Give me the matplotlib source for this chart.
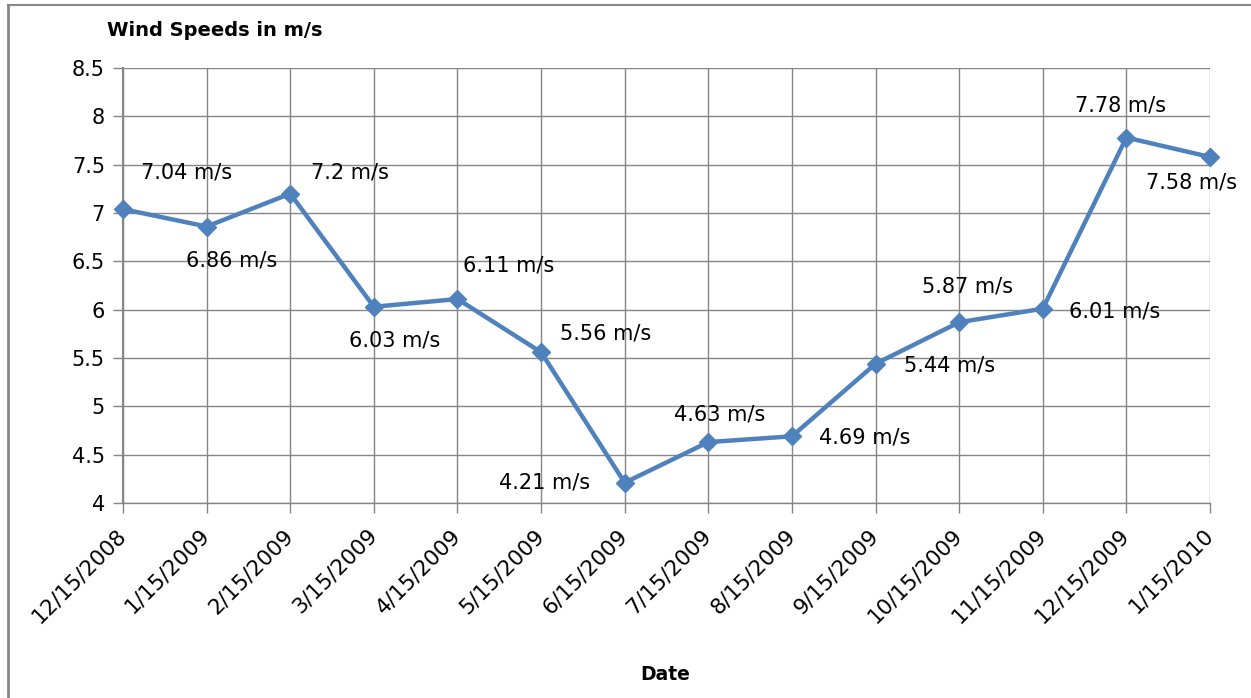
import matplotlib
matplotlib.use("Agg")
import matplotlib.pyplot as plt
from matplotlib.lines import Line2D

dates = ["12/15/2008", "1/15/2009", "2/15/2009", "3/15/2009", "4/15/2009",
         "5/15/2009", "6/15/2009", "7/15/2009", "8/15/2009", "9/15/2009",
         "10/15/2009", "11/15/2009", "12/15/2009", "1/15/2010"]
speeds = [7.04, 6.86, 7.2, 6.03, 6.11, 5.56, 4.21, 4.63, 4.69, 5.44,
          5.87, 6.01, 7.78, 7.58]
yticks = [4, 4.5, 5, 5.5, 6, 6.5, 7, 7.5, 8, 8.5]
ytick_labels = ["4", "4.5", "5", "5.5", "6", "6.5", "7", "7.5", "8", "8.5"]
# label offsets in pixels (dx, dy) relative to each point
offsets = [(64, 37), (25, -34), (60, 21), (21, -34), (51, 34), (65, 19),
           (-80, 0), (11, 28), (73, -1), (74, -2), (8, 36), (72, -3),
           (-6, 32), (-19, -26)]

plt.rcParams['font.family'] = ['DejaVu Sans']
W, H = 1251, 698
fig = plt.figure(figsize=(W / 100, H / 100), dpi=100)
ax = fig.add_axes([123 / W, 1 - 503 / H, (1210 - 123) / W, (503 - 68) / H])

grid_c = '#868686'
x = list(range(len(dates)))
ax.plot(x, speeds, color='#4F81BD', lw=3.2, marker='D', markersize=9,
        markeredgecolor='#4F81BD', zorder=3, clip_on=False)

for xi, v, (dx, dy) in zip(x, speeds, offsets):
    ax.annotate(f"{v:g} m/s", (xi, v), xytext=(dx, dy), textcoords='offset pixels',
                ha='center', va='center', fontsize=15, color='black')

ax.set_xlim(0, len(dates) - 1)
ax.set_ylim(4, 8.5)
ax.set_yticks(yticks)
ax.set_yticklabels(ytick_labels, fontsize=15)
ax.set_xticks(x)
ax.set_xticklabels(dates, fontsize=15.5, rotation=45, ha='right', va='center',
                   rotation_mode='anchor')
ax.tick_params(axis='y', length=7, width=1, color=grid_c, pad=6)
ax.tick_params(axis='x', length=7, width=1, color=grid_c, pad=14)
ax.grid(True, color=grid_c, lw=1)
ax.set_axisbelow(True)
for s in ['top', 'right']:
    ax.spines[s].set_visible(False)
ax.spines['left'].set_color(grid_c)
ax.spines['left'].set_linewidth(1.5)
ax.spines['bottom'].set_color(grid_c)
ax.spines['bottom'].set_linewidth(1)

fig.text(107 / W, 1 - 30 / H, "Wind Speeds in m/s", fontsize=14, fontweight='bold',
         ha='left', va='center')
fig.text(665 / W, 1 - 674 / H, "Date", fontsize=13.5, fontweight='bold',
         ha='center', va='center')

fig.add_artist(Line2D([8 / W, 8 / W], [0, 1 - 5 / H], color='#888888', lw=2,
                      transform=fig.transFigure))
fig.add_artist(Line2D([8 / W, 1250 / W], [1 - 5 / H, 1 - 5 / H], color='#888888',
                      lw=1.5, transform=fig.transFigure))

fig.savefig('out.png', dpi=100)
